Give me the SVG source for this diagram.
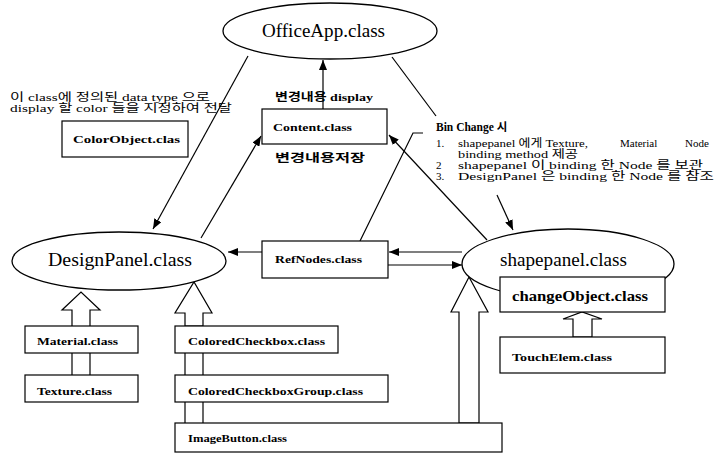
<svg xmlns="http://www.w3.org/2000/svg" width="718" height="461" viewBox="0 0 718 461">
<style>
.box{fill:#fff;stroke:#000;stroke-width:1.2}
.ell{fill:#fff;stroke:#000;stroke-width:1.3}
.big{font-family:"Liberation Serif",serif;font-size:19px;fill:#000}
.lbl{font-family:"Liberation Serif",serif;font-weight:bold;font-size:11px;fill:#000}
.kr{font-family:"Liberation Serif","Noto Sans CJK KR",serif;font-size:11px;fill:#000}
.krb{font-family:"Liberation Serif","Noto Sans CJK KR",serif;font-size:11px;font-weight:bold;fill:#000}
.ln{stroke:#000;stroke-width:1.2;fill:none}
.hol{fill:#fff;stroke:#000;stroke-width:1.2}
</style>
<defs>
<marker id="ah" viewBox="0 0 10 8" refX="10" refY="4" markerWidth="10" markerHeight="8" markerUnits="userSpaceOnUse" orient="auto">
<path d="M0,0 L10,4 L0,8 Z" fill="#000"/>
</marker>
</defs>
<g id="connectors">
<line class="ln" x1="323" y1="109" x2="323" y2="60" marker-end="url(#ah)"/>
<line class="ln" x1="248" y1="56" x2="153" y2="229" marker-end="url(#ah)"/>
<line class="ln" x1="201" y1="238" x2="261" y2="136" marker-end="url(#ah)"/>
<line class="ln" x1="262" y1="252" x2="228" y2="252" marker-end="url(#ah)"/>
<line class="ln" x1="462" y1="252" x2="389" y2="252" marker-end="url(#ah)"/>
<line class="ln" x1="388" y1="265" x2="462" y2="265" marker-end="url(#ah)"/>
<line class="ln" x1="487" y1="240" x2="389" y2="135" marker-end="url(#ah)"/>
<line class="ln" x1="392" y1="57" x2="436" y2="116"/>
<line class="ln" x1="497" y1="195" x2="513" y2="230" marker-end="url(#ah)"/>
<polyline class="ln" points="360,241 413,133 423,133"/>
<polygon class="hol" points="72,327 72,310 62,310 81,292 100,310 90,310 90,327"/>
<line class="ln" x1="72" y1="353" x2="72" y2="375"/>
<line class="ln" x1="90" y1="353" x2="90" y2="375"/>
<polygon class="hol" points="185,326 185,313 175,313 194,282 212,313 203,313 203,326"/>
<line class="ln" x1="185" y1="353" x2="185" y2="375"/>
<line class="ln" x1="203" y1="353" x2="203" y2="375"/>
<line class="ln" x1="185" y1="402" x2="185" y2="423"/>
<line class="ln" x1="203" y1="402" x2="203" y2="423"/>
<polygon class="hol" points="459,423 459,312 451,312 469,277 488,312 479,312 479,423"/>
<polygon class="hol" points="573,337 573,319 563,319 582,312 602,319 592,319 592,337"/>
</g>
<g id="OfficeApp">
<ellipse class="ell" cx="330" cy="31" rx="107" ry="28"/>
<text class="big" x="262" y="37" textLength="123" lengthAdjust="spacingAndGlyphs">OfficeApp.class</text>
</g>
<g id="DesignPanel">
<ellipse class="ell" cx="119" cy="261" rx="107" ry="29"/>
<text class="big" x="48" y="266" textLength="144" lengthAdjust="spacingAndGlyphs">DesignPanel.class</text>
</g>
<g id="shapepanel">
<ellipse class="ell" cx="568" cy="264" rx="106" ry="35"/>
<text class="big" x="500" y="266" textLength="127" lengthAdjust="spacingAndGlyphs">shapepanel.class</text>
</g>
<g id="ColorObject">
<rect class="box" x="62" y="121" width="126" height="36"/>
<text class="lbl" x="73" y="143" textLength="107" lengthAdjust="spacingAndGlyphs">ColorObject.clas</text>
</g>
<g id="Content">
<rect class="box" x="262" y="109" width="125" height="35"/>
<text class="lbl" x="273" y="131" textLength="79" lengthAdjust="spacingAndGlyphs">Content.class</text>
</g>
<g id="RefNodes">
<rect class="box" x="262" y="241" width="126" height="37"/>
<text class="lbl" x="275" y="263" textLength="87" lengthAdjust="spacingAndGlyphs">RefNodes.class</text>
</g>
<g id="changeObject">
<rect class="box" x="500" y="277" width="165" height="35"/>
<text class="lbl" x="512" y="301" style="font-size:14px" textLength="136" lengthAdjust="spacingAndGlyphs">changeObject.class</text>
</g>
<g id="TouchElem">
<rect class="box" x="500" y="337" width="165" height="36"/>
<text class="lbl" x="512" y="361" textLength="100" lengthAdjust="spacingAndGlyphs">TouchElem.class</text>
</g>
<g id="Material">
<rect class="box" x="25" y="326" width="113" height="27"/>
<text class="lbl" x="37" y="345" textLength="81" lengthAdjust="spacingAndGlyphs">Material.class</text>
</g>
<g id="Texture">
<rect class="box" x="25" y="375" width="113" height="27"/>
<text class="lbl" x="37" y="395" textLength="75" lengthAdjust="spacingAndGlyphs">Texture.class</text>
</g>
<g id="ColoredCheckbox">
<rect class="box" x="175" y="326" width="163" height="27"/>
<text class="lbl" x="188" y="345" textLength="137" lengthAdjust="spacingAndGlyphs">ColoredCheckbox.class</text>
</g>
<g id="ColoredCheckboxGroup">
<rect class="box" x="175" y="375" width="213" height="27"/>
<text class="lbl" x="188" y="395" textLength="175" lengthAdjust="spacingAndGlyphs">ColoredCheckboxGroup.class</text>
</g>
<g id="ImageButton">
<rect class="box" x="175" y="423" width="327" height="29"/>
<text class="lbl" x="188" y="442" textLength="99" lengthAdjust="spacingAndGlyphs">ImageButton.class</text>
</g>
<g id="labels">
<text class="kr" x="10" y="101" textLength="200" lengthAdjust="spacingAndGlyphs">이 class에 정의된 data type 으로</text>
<text class="kr" x="10" y="112" textLength="222" lengthAdjust="spacingAndGlyphs">display 할 color 들을 지정하여 전달</text>
<text class="krb" x="275" y="101" textLength="98" lengthAdjust="spacingAndGlyphs">변경내용 display</text>
<text class="krb" x="275" y="162" textLength="90" lengthAdjust="spacingAndGlyphs">변경내용저장</text>
<text class="krb" x="436" y="131" style="font-size:11.5px">Bin Change 시</text>
<text class="kr" x="436" y="147">1.</text>
<text class="kr" x="458" y="147" textLength="130" lengthAdjust="spacingAndGlyphs">shapepanel 에게 Texture,</text>
<text class="kr" x="620" y="147">Material</text>
<text class="kr" x="685" y="147">Node</text>
<text class="kr" x="458" y="158" textLength="120" lengthAdjust="spacingAndGlyphs">binding method  제공</text>
<text class="kr" x="436" y="169">2</text>
<text class="kr" x="458" y="169" textLength="245" lengthAdjust="spacingAndGlyphs">shapepanel 이 binding 한 Node 를 보관</text>
<text class="kr" x="436" y="180">3.</text>
<text class="kr" x="458" y="180" textLength="256" lengthAdjust="spacingAndGlyphs">DesignPanel 은 binding 한 Node 를 참조</text>
</g>
</svg>
